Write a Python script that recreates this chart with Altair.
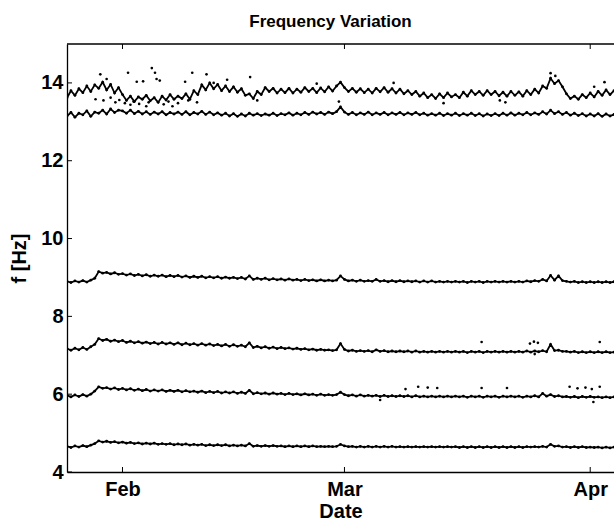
import altair as alt
import pandas as pd

START = "2013-01-25"
STEP = "12h"

# frequency bands, one value every 12 hours from Jan 25 to Apr 4
BAND_46 = [
    4.66, 4.63, 4.67, 4.64, 4.68, 4.65, 4.69, 4.73, 4.80, 4.77, 4.79, 4.76, 4.78, 4.75,
    4.77, 4.74, 4.76, 4.73, 4.75, 4.72, 4.74, 4.72, 4.74, 4.71, 4.73, 4.71, 4.73, 4.70,
    4.72, 4.70, 4.72, 4.69, 4.71, 4.69, 4.71, 4.68, 4.70, 4.68, 4.70, 4.68, 4.70, 4.67,
    4.69, 4.67, 4.69, 4.67, 4.73, 4.66, 4.68, 4.66, 4.68, 4.66, 4.68, 4.66, 4.67, 4.65,
    4.67, 4.65, 4.67, 4.65, 4.67, 4.65, 4.67, 4.65, 4.66, 4.65, 4.66, 4.65, 4.66, 4.71,
    4.67, 4.65, 4.66, 4.64, 4.66, 4.64, 4.66, 4.64, 4.66, 4.64, 4.66, 4.64, 4.66, 4.64,
    4.65, 4.64, 4.65, 4.64, 4.65, 4.64, 4.65, 4.64, 4.65, 4.64, 4.65, 4.64, 4.65, 4.64,
    4.65, 4.63, 4.65, 4.63, 4.65, 4.63, 4.65, 4.63, 4.65, 4.63, 4.65, 4.63, 4.65, 4.63,
    4.65, 4.63, 4.65, 4.63, 4.65, 4.64, 4.65, 4.64, 4.66, 4.64, 4.71, 4.66, 4.67, 4.64,
    4.65, 4.63, 4.65, 4.63, 4.65, 4.63, 4.64, 4.63, 4.64, 4.62, 4.64, 4.62, 4.64,
]
BAND_60 = [
    5.97, 5.93, 5.98, 5.94, 5.99, 5.95, 6.00, 6.08, 6.19, 6.15, 6.17, 6.13, 6.16, 6.12,
    6.15, 6.11, 6.14, 6.10, 6.13, 6.09, 6.12, 6.08, 6.11, 6.08, 6.11, 6.07, 6.10, 6.07,
    6.10, 6.06, 6.09, 6.06, 6.08, 6.05, 6.08, 6.04, 6.07, 6.04, 6.07, 6.03, 6.06, 6.03,
    6.06, 6.02, 6.05, 6.02, 6.10, 6.01, 6.04, 6.01, 6.03, 6.00, 6.03, 6.00, 6.02, 5.99,
    6.02, 5.99, 6.01, 5.98, 6.01, 5.98, 6.00, 5.97, 6.00, 5.97, 5.99, 5.97, 5.99, 6.05,
    5.99, 5.96, 5.98, 5.95, 5.98, 5.95, 5.97, 5.95, 5.97, 5.94, 5.97, 5.94, 5.96, 5.94,
    5.96, 5.94, 5.96, 5.93, 5.96, 5.93, 5.95, 5.93, 5.95, 5.93, 5.95, 5.93, 5.95, 5.93,
    5.95, 5.93, 5.95, 5.92, 5.95, 5.93, 5.95, 5.92, 5.95, 5.93, 5.95, 5.92, 5.95, 5.93,
    5.95, 5.93, 5.95, 5.92, 5.95, 5.93, 5.96, 5.93, 6.02, 5.95, 5.99, 5.94, 5.96, 5.93,
    5.94, 5.92, 5.94, 5.91, 5.94, 5.92, 5.94, 5.92, 5.93, 5.91, 5.93, 5.91, 5.93,
]
BAND_71 = [
    7.17, 7.13, 7.18, 7.14, 7.20, 7.15, 7.22, 7.28, 7.43, 7.38, 7.41, 7.36, 7.39, 7.35,
    7.38, 7.33, 7.36, 7.32, 7.35, 7.31, 7.34, 7.30, 7.33, 7.29, 7.33, 7.29, 7.32, 7.28,
    7.32, 7.27, 7.31, 7.27, 7.30, 7.26, 7.30, 7.26, 7.29, 7.25, 7.28, 7.24, 7.28, 7.23,
    7.27, 7.23, 7.26, 7.22, 7.32, 7.20, 7.23, 7.19, 7.22, 7.18, 7.21, 7.17, 7.20, 7.17,
    7.19, 7.16, 7.18, 7.15, 7.17, 7.14, 7.16, 7.13, 7.15, 7.13, 7.14, 7.12, 7.14, 7.30,
    7.15, 7.11, 7.13, 7.10, 7.12, 7.10, 7.12, 7.09, 7.14, 7.10, 7.12, 7.09, 7.11, 7.09,
    7.11, 7.09, 7.11, 7.08, 7.11, 7.08, 7.10, 7.08, 7.10, 7.08, 7.10, 7.08, 7.10, 7.08,
    7.10, 7.08, 7.10, 7.07, 7.10, 7.08, 7.10, 7.07, 7.10, 7.08, 7.10, 7.08, 7.10, 7.08,
    7.10, 7.08, 7.10, 7.08, 7.11, 7.08, 7.11, 7.09, 7.12, 7.09, 7.28, 7.12, 7.13, 7.10,
    7.10, 7.08, 7.10, 7.07, 7.09, 7.07, 7.09, 7.07, 7.09, 7.07, 7.09, 7.07, 7.08,
]
BAND_89 = [
    8.90, 8.87, 8.91, 8.88, 8.92, 8.88, 8.93, 8.98, 9.15, 9.11, 9.13, 9.09, 9.12, 9.08,
    9.10, 9.06, 9.09, 9.05, 9.08, 9.04, 9.07, 9.03, 9.06, 9.03, 9.06, 9.02, 9.05, 9.02,
    9.05, 9.01, 9.04, 9.00, 9.03, 9.00, 9.03, 8.99, 9.02, 8.99, 9.02, 8.98, 9.01, 8.98,
    9.00, 8.97, 9.00, 8.96, 9.04, 8.95, 8.98, 8.95, 8.98, 8.94, 8.97, 8.94, 8.96, 8.93,
    8.96, 8.93, 8.95, 8.92, 8.95, 8.92, 8.94, 8.91, 8.94, 8.91, 8.93, 8.91, 8.93, 9.04,
    8.95, 8.91, 8.93, 8.90, 8.93, 8.90, 8.92, 8.90, 8.95, 8.90, 8.92, 8.89, 8.92, 8.89,
    8.92, 8.89, 8.91, 8.89, 8.91, 8.88, 8.91, 8.88, 8.91, 8.88, 8.90, 8.88, 8.90, 8.88,
    8.90, 8.88, 8.90, 8.87, 8.90, 8.88, 8.90, 8.87, 8.90, 8.88, 8.90, 8.88, 8.90, 8.88,
    8.90, 8.88, 8.90, 8.88, 8.91, 8.89, 8.92, 8.90, 8.95, 8.91, 9.05, 8.93, 9.04, 8.92,
    8.90, 8.88, 8.90, 8.87, 8.89, 8.87, 8.89, 8.87, 8.89, 8.87, 8.89, 8.87, 8.89,
]
BAND_132 = [
    13.15, 13.24, 13.12, 13.22, 13.18, 13.28, 13.14, 13.25, 13.22, 13.30, 13.20, 13.33, 13.24, 13.30,
    13.28, 13.22, 13.30, 13.21, 13.27, 13.20, 13.26, 13.19, 13.25, 13.20, 13.26, 13.18, 13.24, 13.20,
    13.25, 13.19, 13.26, 13.18, 13.24, 13.20, 13.27, 13.19, 13.25, 13.18, 13.23, 13.17, 13.22, 13.15,
    13.21, 13.14, 13.20, 13.15, 13.22, 13.17, 13.21, 13.16, 13.20, 13.17, 13.22, 13.16, 13.21, 13.18,
    13.23, 13.17, 13.22, 13.18, 13.24, 13.19, 13.25, 13.20, 13.24, 13.19, 13.25, 13.21, 13.26, 13.38,
    13.25, 13.19, 13.24, 13.18, 13.23, 13.19, 13.25, 13.18, 13.23, 13.19, 13.24, 13.18, 13.23, 13.19,
    13.24, 13.18, 13.23, 13.19, 13.24, 13.18, 13.22, 13.17, 13.21, 13.17, 13.22, 13.16, 13.21, 13.17,
    13.22, 13.16, 13.21, 13.17, 13.22, 13.16, 13.21, 13.15, 13.20, 13.16, 13.21, 13.16, 13.22, 13.17,
    13.23, 13.17, 13.22, 13.18, 13.24, 13.18, 13.23, 13.19, 13.26, 13.20, 13.30, 13.21, 13.26, 13.19,
    13.24, 13.17, 13.22, 13.16, 13.21, 13.15, 13.20, 13.15, 13.21, 13.14, 13.20, 13.15, 13.19,
]
BAND_138 = [
    13.62, 13.80, 13.68, 13.85, 13.75, 13.92, 13.78, 13.95, 13.86, 14.02, 13.82, 13.96, 13.74, 13.88,
    13.70, 13.55, 13.66, 13.52, 13.64, 13.58, 13.68, 13.54, 13.62, 13.50, 13.66, 13.56, 13.70, 13.58,
    13.66, 13.60, 13.72, 13.58, 13.80, 13.70, 13.95, 13.82, 14.00, 13.85, 13.96, 13.80, 13.92, 13.78,
    13.90, 13.76, 13.85, 13.68, 13.72, 13.60, 13.78, 13.70, 13.88, 13.78, 13.86, 13.74, 13.84, 13.75,
    13.86, 13.74, 13.84, 13.76, 13.88, 13.78, 13.86, 13.75, 13.87, 13.77, 13.90, 13.79, 13.92, 14.02,
    13.88, 13.78, 13.86, 13.76, 13.85, 13.75, 13.84, 13.74, 13.86, 13.77, 13.88, 13.76, 13.85, 13.74,
    13.84, 13.72, 13.80, 13.70, 13.78, 13.66, 13.74, 13.62, 13.70, 13.60, 13.72, 13.62, 13.74, 13.64,
    13.70, 13.62, 13.76, 13.66, 13.80, 13.70, 13.78, 13.68, 13.80, 13.70, 13.78, 13.67, 13.76, 13.66,
    13.78, 13.68, 13.77, 13.66, 13.80, 13.70, 13.84, 13.74, 13.92, 13.86, 14.12, 13.98, 14.06, 13.90,
    13.72, 13.60, 13.66, 13.58, 13.70, 13.62, 13.74, 13.64, 13.78, 13.68, 13.82, 13.70, 13.80,
]

# scattered points (days after Jan 25, value)
OUT_DAY = [3.6, 4.2, 4.6, 5.0, 5.5, 6.1, 6.6, 7.3, 7.7, 8.0, 8.4, 8.8, 9.1, 9.6, 10.0,
           10.3, 10.7, 11.1, 11.3, 11.7, 12.2, 12.8, 13.3, 14.0, 14.9, 15.3, 15.8, 16.4,
           17.6, 18.5, 20.2, 23.1, 24.0, 31.5, 34.3, 41.2, 47.5, 54.6, 55.3, 61.0, 61.6,
           66.5, 67.8,
           52.3, 58.4, 58.9, 59.4, 67.2, 59.0,
           42.7, 44.3, 45.5, 46.7, 39.5, 52.3, 55.5, 63.4, 64.4, 65.4, 66.2, 67.2, 66.4]
OUT_VAL = [13.58, 14.22, 13.55, 14.10, 13.62, 13.50, 13.56, 13.48, 14.26, 13.44, 13.52,
           14.03, 13.46, 14.04, 13.40, 13.50, 14.38, 14.26, 14.10, 14.06, 13.45, 13.52,
           13.40, 13.48, 14.03, 13.55, 14.26, 13.50, 14.22, 14.00, 14.08, 14.15, 13.55,
           13.98, 13.52, 14.00, 13.48, 13.55, 13.50, 14.25, 14.18, 13.90, 14.02,
           7.34, 7.30, 7.35, 7.32, 7.34, 7.03,
           6.13, 6.19, 6.17, 6.16, 5.85, 6.16, 6.16, 6.19, 6.15, 6.17, 6.13, 6.19, 5.80]

TICK_DATES = ["2013-02-01T00:00:00Z", "2013-03-01T00:00:00Z", "2013-04-01T00:00:00Z"]
Y_TICKS = [4, 6, 8, 10, 12, 14]

FONT = "Liberation Sans"
W, H = 547, 428

bands = {"b1": BAND_46, "b2": BAND_60, "b3": BAND_71, "b4": BAND_89,
         "b5": BAND_132, "b6": BAND_138}
rows = []
for name, vals in bands.items():
    times = pd.date_range(START, periods=len(vals), freq=STEP)
    for t, v in zip(times, vals):
        rows.append({"date": t.strftime("%Y-%m-%dT%H:%M:%SZ"), "f": v, "band": name})
df = pd.DataFrame(rows)

t0 = pd.Timestamp(START)
out_df = pd.DataFrame({
    "date": [(t0 + pd.to_timedelta(d, unit="D")).strftime("%Y-%m-%dT%H:%M:%SZ") for d in OUT_DAY],
    "f": OUT_VAL,
})
xt_df = pd.DataFrame({"date": TICK_DATES})
yt_df = pd.DataFrame({"f": Y_TICKS})

x_enc = alt.X(
    "date:T",
    scale=alt.Scale(type="utc",
                    domain=[alt.DateTime(year=2013, month=1, date=25, utc=True),
                            alt.DateTime(year=2013, month=4, date=4, utc=True)]),
    axis=alt.Axis(values=[alt.DateTime(year=2013, month=m, date=1, utc=True) for m in (2, 3, 4)],
                  format="%b", labelPadding=7, titleY=45, titleBaseline="alphabetic"),
    title="Date",
)
y_enc = alt.Y(
    "f:Q",
    scale=alt.Scale(domain=[4, 15], nice=False, zero=False),
    axis=alt.Axis(values=Y_TICKS, labelPadding=4, titleX=-42, titleY=H / 2,
                  titleBaseline="alphabetic", titleAlign="center"),
    title="f [Hz]",
)

lines = alt.Chart(df).mark_line(color="black", strokeWidth=1.8, clip=True).encode(
    x=x_enc, y=y_enc, detail="band:N")
dots = alt.Chart(df).mark_circle(color="black", size=8, opacity=1, clip=True).encode(
    x=x_enc, y=y_enc)
outs = alt.Chart(out_df).mark_circle(color="black", size=7, opacity=1, clip=True).encode(
    x=x_enc, y=y_enc)

xt_bottom = alt.Chart(xt_df).mark_rule(color="black", strokeWidth=1).encode(
    x=x_enc, y=alt.value(H), y2=alt.value(H - 5))
xt_top = alt.Chart(xt_df).mark_rule(color="black", strokeWidth=1).encode(
    x=x_enc, y=alt.value(0), y2=alt.value(5))
yt_left = alt.Chart(yt_df).mark_rule(color="black", strokeWidth=1).encode(
    y=y_enc, x=alt.value(0), x2=alt.value(5))
top_border = alt.Chart(pd.DataFrame({"k": [0]})).mark_rule(color="black", strokeWidth=1.3).encode(
    x=alt.value(0), x2=alt.value(W), y=alt.value(0))

chart = alt.layer(lines, dots, outs, xt_bottom, xt_top, yt_left, top_border).properties(
    width=W,
    height=H,
    autosize=alt.AutoSizeParams(type="none"),
    padding={"left": 67, "top": 44, "right": 0, "bottom": 50},
    title=alt.TitleParams("Frequency Variation", font=FONT, fontSize=17, fontWeight="bold",
                          color="black", anchor="middle", frame="group", dx=-10, dy=19,
                          offset=18, baseline="alphabetic"),
    background="white",
).configure_view(stroke=None).configure_axis(
    labelFont=FONT, labelFontSize=20, labelFontWeight="bold", labelColor="black",
    titleFont=FONT, titleFontSize=20, titleFontWeight="bold", titleColor="black",
    domainColor="black", domainWidth=1.3, ticks=False, tickSize=0, grid=False,
)

chart.save("out.html", embed_options={"renderer": "svg", "actions": False})
